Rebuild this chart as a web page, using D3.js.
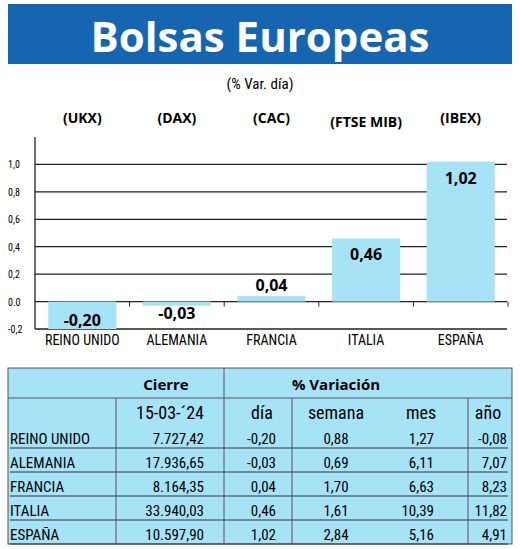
<!DOCTYPE html><html><head><meta charset="utf-8">
<script src="https://cdn.jsdelivr.net/npm/d3@7"></script>
<style>body{margin:0;background:#fff}</style></head><body>
<script>
const tickers=["(UKX)","(DAX)","(CAC)","(FTSE MIB)","(IBEX)"];
const countries=["REINO UNIDO","ALEMANIA","FRANCIA","ITALIA","ESPAÑA"];
const dayVar=[-0.20,-0.03,0.04,0.46,1.02];
const cierre=["7.727,42","17.936,65","8.164,35","33.940,03","10.597,90"];
const semana=["0,88","0,69","1,70","1,61","2,84"];
const mes=["1,27","6,11","6,63","10,39","5,16"];
const anio=["-0,08","7,07","8,23","11,82","4,91"];
const yTicks=[-0.2,0,0.2,0.4,0.6,0.8,1.0];
const fmt=v=>v.toFixed(2).replace(".",",");
const F="'Liberation Sans Narrow','Roboto Condensed','Liberation Sans',sans-serif";
const svg=d3.select("body").append("svg").attr("width",520).attr("height",549);
svg.append("rect").attr("x",8).attr("y",4).attr("width",504).attr("height",60).attr("fill","#1565b0");
svg.append("text").attr("x",260).attr("y",52).attr("text-anchor","middle").attr("fill","#fff")
 .attr("font-family","'Open Sans',sans-serif").attr("font-weight",700).attr("font-size",42).text("Bolsas Europeas");
svg.append("text").attr("x",260).attr("y",89).attr("text-anchor","middle").attr("font-family",F).attr("font-size",15).text("(% Var. día)");
const x=d3.scaleBand().domain(countries).range([35,508]).paddingInner(0.28).paddingOuter(0.14);
const y=d3.scaleLinear().domain([-0.2,1.2]).range([329,137]);
const g=svg.append("g");
g.selectAll(".grid").data(yTicks).join("line").attr("x1",35).attr("x2",507).attr("y1",d=>y(d)).attr("y2",d=>y(d)).attr("stroke","#222").attr("stroke-width",1.3);
g.append("line").attr("x1",35).attr("x2",35).attr("y1",137).attr("y2",329).attr("stroke","#222").attr("stroke-width",1.3);
const step=x.step(), gap=(step-x.bandwidth())/2;
countries.forEach(c=>{const lx=x(c)+x.bandwidth()+gap; g.append("line").attr("x1",lx).attr("x2",lx).attr("y1",y(0)).attr("y2",y(0)+5).attr("stroke","#222");});
g.selectAll("text.yt").data(yTicks).join("text").attr("x",8).attr("y",d=>y(d)+4).attr("font-family",F).attr("font-size",10).text(d=>d.toFixed(1).replace(".",d===0?".":","));
g.selectAll("rect.bar").data(dayVar).join("rect").attr("x",(d,i)=>x(countries[i])).attr("width",x.bandwidth())
 .attr("y",d=>y(Math.max(0,d))).attr("height",d=>Math.abs(y(d)-y(0))).attr("fill","#a6e3f7");
g.selectAll("text.val").data(dayVar).join("text").attr("x",(d,i)=>x(countries[i])+x.bandwidth()/2)
 .attr("y",d=>d<0?(d<-0.1?y(0)+24:y(0)+17):(d<0.1?y(d)-5:y(d)+22)).attr("text-anchor","middle")
 .attr("font-family","'Open Sans',sans-serif").attr("font-weight",700).attr("font-size",16).text(fmt);
g.selectAll("text.tk").data(tickers).join("text").attr("x",(d,i)=>x(countries[i])+x.bandwidth()/2).attr("y",(d,i)=>i==3?127:123)
 .attr("text-anchor","middle").attr("font-family","'Open Sans',sans-serif").attr("font-weight",700).attr("font-size",14).text(d=>d);
g.selectAll("text.ct").data(countries).join("text").attr("x",(d,i)=>x(d)+x.bandwidth()/2).attr("y",345)
 .attr("text-anchor","middle").attr("font-family",F).attr("font-size",14).text(d=>d);
// table
const t=svg.append("g");
const ry=[368,398,425];
t.append("rect").attr("x",8).attr("y",368).attr("width",504).attr("height",176).attr("fill","#a6e3f7").attr("stroke","#555");
t.append("line").attr("x1",8).attr("x2",512).attr("y1",398).attr("y2",398).attr("stroke","#555");
t.append("line").attr("x1",224).attr("x2",224).attr("y1",368).attr("y2",544).attr("stroke","#555");
[116,292,468].forEach(v=>t.append("line").attr("x1",v).attr("x2",v).attr("y1",398).attr("y2",544).attr("stroke","#555"));
t.append("text").attr("x",166).attr("y",390).attr("text-anchor","middle").attr("font-family","'Open Sans',sans-serif").attr("font-weight",700).attr("font-size",15).text("Cierre");
t.append("text").attr("x",336).attr("y",390).attr("text-anchor","middle").attr("font-family","'Open Sans',sans-serif").attr("font-weight",700).attr("font-size",15).text("% Variación");
const hdr=[["15-03-´24",170],["día",262],["semana",336],["mes",421],["año",488]];
hdr.forEach(h=>t.append("text").attr("x",h[1]).attr("y",419).attr("text-anchor","middle").attr("font-family",F).attr("font-size",18).text(h[0]));
const cols=[cierre,dayVar.map(fmt),semana,mes,anio];
const cx=[[204,"end"],[276,"end"],[336,"middle"],[434,"end"],[507,"end"]];
countries.forEach((c,i)=>{const yy=ry[2]+i*24+19;
 t.append("line").attr("x1",10).attr("x2",508).attr("y1",ry[2]+i*24+23).attr("y2",ry[2]+i*24+23).attr("stroke","#333");
 t.append("text").attr("x",10).attr("y",yy).attr("font-family",F).attr("font-size",15).text(c);
 cols.forEach((col,j)=>t.append("text").attr("x",cx[j][0]).attr("y",yy).attr("text-anchor",cx[j][1]).attr("font-family",F).attr("font-size",15).text(col[i]));
});
</script></body></html>
